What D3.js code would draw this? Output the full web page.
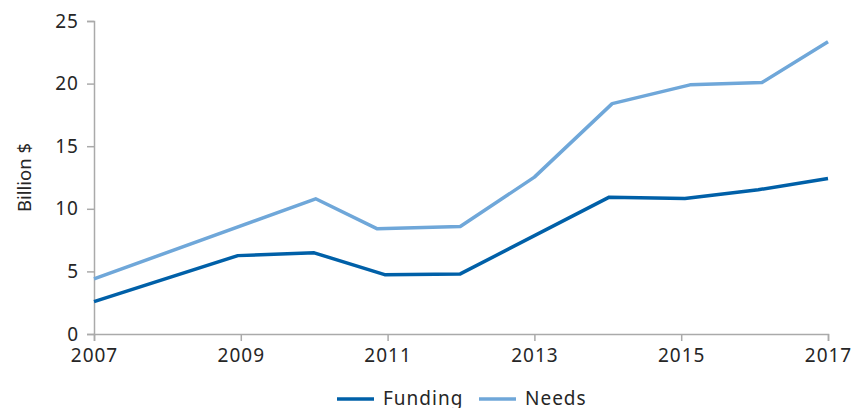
<!DOCTYPE html>
<html><head><meta charset="utf-8">
<script src="https://cdn.jsdelivr.net/npm/d3@7"></script>
<style>
body{margin:0;background:#fff;}
svg text{font-family:"Noto Sans","Open Sans",sans-serif;fill:#262626;}
</style></head>
<body><svg id="c" width="859" height="408"></svg>
<script>
const fundingYears = [2007, 2008.96, 2010.0, 2010.96, 2011.99, 2014.02, 2015.05, 2016.05, 2017];
const fundingValues = [2.58, 6.26, 6.48, 4.74, 4.8, 10.93, 10.82, 11.52, 12.42];
const needsYears = [2007, 2010.02, 2010.86, 2011.99, 2013.0, 2014.06, 2015.12, 2016.1, 2017];
const needsValues = [4.4, 10.8, 8.4, 8.58, 12.53, 18.4, 19.9, 20.08, 23.35];
const xTicks = [2007, 2009, 2011, 2013, 2015, 2017];
const yTicks = [0, 5, 10, 15, 20, 25];
const seriesNames = ["Funding", "Needs"];
const colors = ["#0060a8", "#6fa7d9"];

const svg = d3.select("#c");
const m = {l: 94, r: 31, t: 21, b: 74};
const W = 859, H = 408;
const x = d3.scaleLinear().domain([2007, 2017]).range([m.l, W - m.r]);
const y = d3.scaleLinear().domain([0, 25]).range([H - m.b, m.t]);

const xa = svg.append("g").attr("transform", `translate(0,${y(0)})`)
  .call(d3.axisBottom(x).tickValues(xTicks).tickFormat(d3.format("d")).tickSize(7).tickPadding(8));
const ya = svg.append("g").attr("transform", `translate(${m.l},0)`)
  .call(d3.axisLeft(y).tickValues(yTicks).tickSize(7).tickPadding(8));
[xa, ya].forEach(a => {
  a.selectAll("path,line").attr("stroke", "#aaaaaa").attr("stroke-width", 1.5);
  a.selectAll("text").style("font-size", "19px").style("letter-spacing", "1px").attr("fill", "#262626");
});

svg.append("text").attr("transform", `translate(31,${(y(0)+y(25))/2}) rotate(-90)`)
  .attr("text-anchor", "middle").style("font-size", "18.5px").text("Billion $");

const line = d3.line().x(d => x(d[0])).y(d => y(d[1]));
const data = [d3.zip(fundingYears, fundingValues), d3.zip(needsYears, needsValues)];
[1, 0].forEach(i => {
  svg.append("path").datum(data[i]).attr("d", line)
    .attr("fill", "none").attr("stroke", colors[i]).attr("stroke-width", 3.5)
    .attr("stroke-linejoin", "round");
});

const leg = [{x: 337, tx: 383}, {x: 479, tx: 525}];
seriesNames.forEach((n, i) => {
  svg.append("line").attr("x1", leg[i].x).attr("x2", leg[i].x + 37)
    .attr("y1", 399).attr("y2", 399).attr("stroke", colors[i]).attr("stroke-width", 3.5);
  svg.append("text").attr("x", leg[i].tx).attr("y", 405).style("font-size", "19px")
    .style("letter-spacing", "1px").text(n);
});
</script></body></html>
